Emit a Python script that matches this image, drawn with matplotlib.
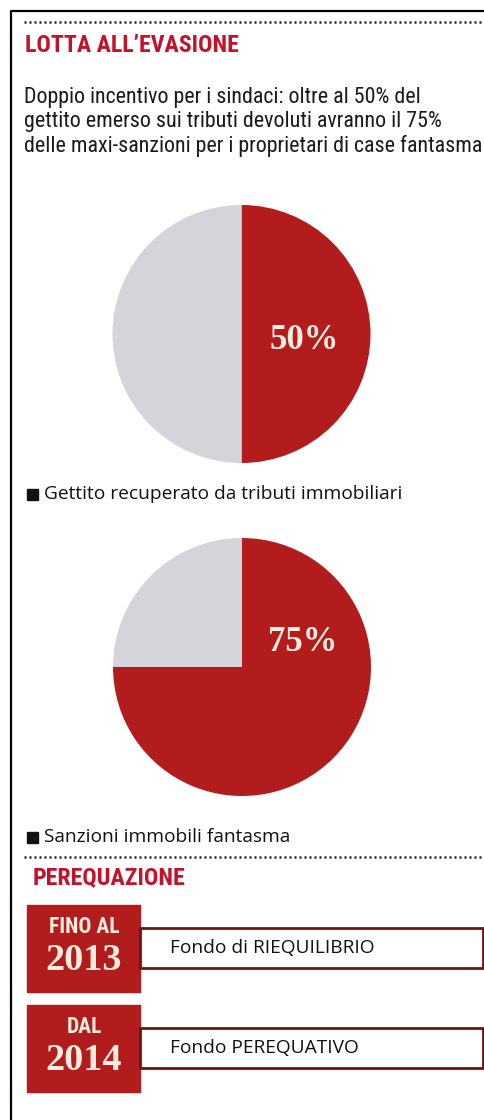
import matplotlib
matplotlib.use("Agg")
import matplotlib.pyplot as plt
from matplotlib.patches import Rectangle
from matplotlib import font_manager

# data
section1 = "LOTTA ALL\u2019EVASIONE"
intro = ["Doppio incentivo per i sindaci: oltre al 50% del",
         "gettito emerso sui tributi devoluti avranno il 75%",
         "delle maxi-sanzioni per i proprietari di case fantasma"]
pie_shares = [50, 75]
pie_labels = ["Gettito recuperato da tributi immobiliari",
              "Sanzioni immobili fantasma"]
section2 = "PEREQUAZIONE"
period_tops = ["FINO AL", "DAL"]
period_years = ["2013", "2014"]
funds = ["Fondo di RIEQUILIBRIO", "Fondo PEREQUATIVO"]

RED = "#b21c1c"
GREY = "#d4d4db"
TITLE_RED = "#c4122b"
CREAM = "#f6ebdc"

names = {f.name for f in font_manager.fontManager.ttflist}
def pick(*cands):
    for c in cands:
        if c in names:
            return c
    return "DejaVu Sans"

narrow = pick("Liberation Sans Narrow", "DejaVu Sans Condensed", "Roboto Condensed", "Liberation Sans")
serif = pick("Liberation Serif", "DejaVu Serif")
sans = pick("DejaVu Sans Condensed", "Open Sans", "DejaVu Sans")

W, H = 485, 1120
fig = plt.figure(figsize=(W / 100, H / 100), dpi=100)
ax = fig.add_axes([0, 0, 1, 1])
ax.set_xlim(0, W)
ax.set_ylim(H, 0)
ax.axis("off")

# frame
ax.plot([11, 11, W], [H, 11, 11], color="black", lw=1.6, solid_capstyle="butt")

# dotted separators
for y in [22, 857]:
    ax.plot([24, W], [y, y], color="#222222", lw=1.8, ls=(0, (0.8, 1.2)))

ax.text(25, 46, section1, family=narrow, weight="bold", fontsize=17.2,
        color=TITLE_RED, va="center")
for i, line in enumerate(intro):
    ax.text(24, 97 + i * 24.5, line, family=narrow, fontsize=15.8,
            color="#1a1a1a", va="center")

# pies
centers = [(241.5, 334), (242, 667)]
label_pos = [(0.49, -0.05), (0.47, 0.19)]
legend_y = [494, 837]
r = 129
for share, (cx, cy), (lx, ly), lab, ly_leg in zip(pie_shares, centers, label_pos, pie_labels, legend_y):
    pax = fig.add_axes([(cx - r) / W, 1 - (cy + r) / H, 2 * r / W, 2 * r / H])
    pax.pie([share, 100 - share], colors=[RED, GREY], startangle=90,
            counterclock=False, radius=1)
    pax.set_xlim(-1, 1)
    pax.set_ylim(-1, 1)
    pax.text(lx, ly, f"{share}%", family=serif, weight="bold", fontsize=25,
             color=CREAM, ha="center", va="center")
    ax.add_patch(Rectangle((27, ly_leg - 5.5), 11, 11, color="#111111"))
    ax.text(44, ly_leg, lab, family=sans, fontsize=13.8, color="#111111",
            va="center")

ax.text(33, 878, section2, family=narrow, weight="bold", fontsize=17.2,
        color=TITLE_RED, va="center")

# periods
box_tops = [905, 1005]
for top, t1, yr, fund in zip(box_tops, period_tops, period_years, funds):
    ax.add_patch(Rectangle((27, top), 113, 87, color=RED))
    ax.add_patch(Rectangle((140, top + 23), 343, 40, facecolor="white",
                           edgecolor="#6e1414", lw=2))
    ax.text(84, top + 22, t1, family=narrow, weight="bold", fontsize=15.5,
            color=CREAM, ha="center", va="center")
    ax.text(84, top + 56, yr, family=serif, weight="bold", fontsize=27.5,
            color=CREAM, ha="center", va="center")
    ax.text(170, top + 43, fund, family=sans, fontsize=13.8, color="#111111",
            va="center")

fig.savefig("out.png", dpi=100)
